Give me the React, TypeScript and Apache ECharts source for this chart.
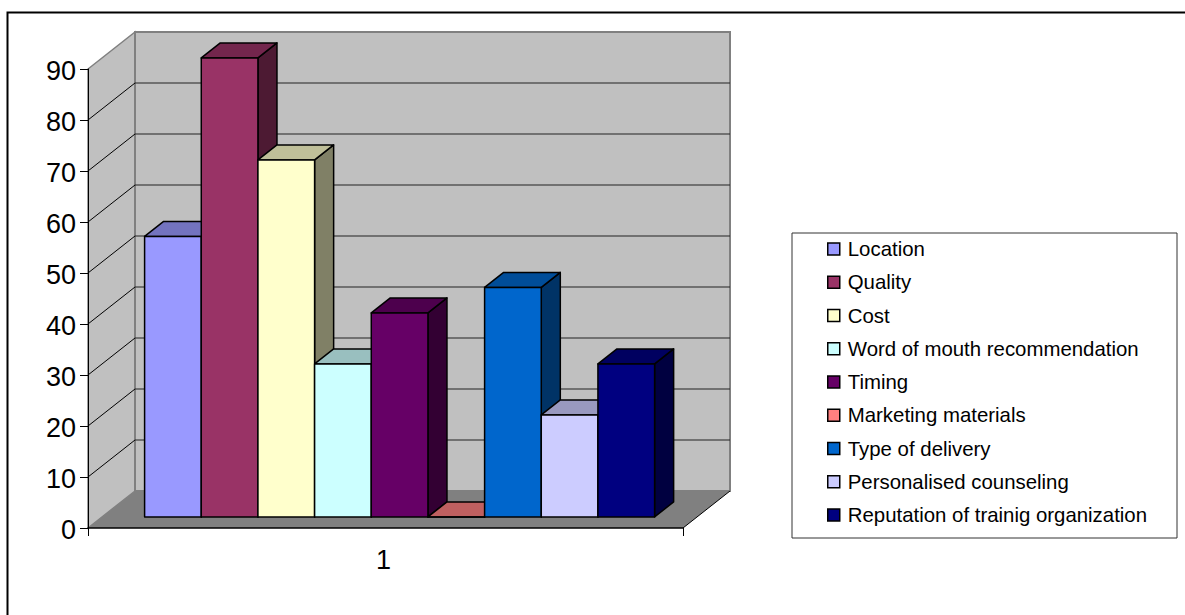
import React, { useEffect, useRef } from "react";
import * as echarts from "echarts";

const categories = ["1"];
const seriesNames = [
  "Location",
  "Quality",
  "Cost",
  "Word of mouth recommendation",
  "Timing",
  "Marketing materials",
  "Type of delivery",
  "Personalised counseling",
  "Reputation of trainig organization",
];
const seriesValues = [55, 90, 70, 30, 40, 0, 45, 20, 30];
const seriesColors = [
  "#9999ff",
  "#993366",
  "#ffffcc",
  "#ccffff",
  "#660066",
  "#ff8080",
  "#0066cc",
  "#ccccff",
  "#000080",
];
const yTicks = [10, 20, 30, 40, 50, 60, 70, 80, 90];

const FONT = "Liberation Sans";
const DX = 47;
const DY = -37;
const BAR_DEPTH = 0.405;
const BAR_NEAR = 0.3;
const GAP_BARS = 1.5;

function shade(hex: string, k: number) {
  const n = parseInt(hex.slice(1), 16);
  const r = Math.round(((n >> 16) & 255) * k);
  const g = Math.round(((n >> 8) & 255) * k);
  const b = Math.round((n & 255) * k);
  return `rgb(${r},${g},${b})`;
}

const renderWalls = (_p: any, api: any) => {
  const band = api.size([1, 0])[0];
  const c = api.coord([0, 0]);
  const left = c[0] - band / 2;
  const right = c[0] + band / 2;
  const y0 = c[1];
  const yTop = api.coord([0, 90])[1];
  const children: any[] = [
    {
      type: "polygon",
      shape: { points: [[left, yTop], [left + DX, yTop + DY], [left + DX, y0 + DY], [left, y0]] },
      style: { fill: "#c0c0c0", stroke: "#808080", lineWidth: 1.5 },
    },
    {
      type: "polygon",
      shape: { points: [[left + DX, yTop + DY], [right + DX, yTop + DY], [right + DX, y0 + DY], [left + DX, y0 + DY]] },
      style: { fill: "#c0c0c0", stroke: "#808080", lineWidth: 2 },
    },
    {
      type: "polygon",
      shape: { points: [[left, y0], [left + DX, y0 + DY], [right + DX, y0 + DY], [right, y0]] },
      style: { fill: "#808080" },
    },
    {
      type: "line",
      shape: { x1: right, y1: y0, x2: right + DX, y2: y0 + DY },
      style: { stroke: "#000", lineWidth: 1 },
    },
  ];
  yTicks.forEach((v) => {
    if (v === 90) return;
    const y = api.coord([0, v])[1];
    children.push({
      type: "line",
      shape: { x1: left, y1: y, x2: left + DX, y2: y + DY },
      style: { stroke: "#000", lineWidth: 1 },
    });
    children.push({
      type: "line",
      shape: { x1: left + DX, y1: y + DY, x2: right + DX, y2: y + DY },
      style: { stroke: "#222", lineWidth: 1 },
    });
  });
  return { type: "group", children };
};

const makeBarRenderer = (index: number, color: string) => (_p: any, api: any) => {
  const band = api.size([1, 0])[0];
  const center = api.coord([0, 0])[0];
  const y0 = api.coord([0, 0])[1];
  const yv = api.coord([0, api.value(1)])[1];
  const w = band / (seriesNames.length + GAP_BARS);
  const startX = center - band / 2 + (GAP_BARS / 2) * w;
  const x = startX + index * w + DX * BAR_NEAR;
  const off = DY * BAR_NEAR;
  const ddx = DX * BAR_DEPTH;
  const ddy = DY * BAR_DEPTH;
  const b = y0 + off;
  const t = yv + off;
  const edge = { stroke: "#000", lineWidth: 1.5, lineJoin: "round" };
  return {
    type: "group",
    children: [
      {
        type: "polygon",
        shape: { points: [[x + w, t], [x + w + ddx, t + ddy], [x + w + ddx, b + ddy], [x + w, b]] },
        style: { fill: shade(color, 0.5), ...edge },
      },
      {
        type: "polygon",
        shape: { points: [[x, t], [x + ddx, t + ddy], [x + w + ddx, t + ddy], [x + w, t]] },
        style: { fill: shade(color, 0.75), ...edge },
      },
      {
        type: "polygon",
        shape: { points: [[x, t], [x + w, t], [x + w, b], [x, b]] },
        style: { fill: color, ...edge },
      },
    ],
  };
};

export default function App() {
  const ref = useRef<HTMLDivElement>(null);
  useEffect(() => {
    if (!ref.current) return;
    const chart = echarts.init(ref.current, undefined, { renderer: "svg" });
    chart.setOption({
      animation: false,
      backgroundColor: "#ffffff",
      textStyle: { fontFamily: FONT },
      grid: { left: 88, top: 69, width: 595, height: 459, containLabel: false },
      xAxis: {
        type: "category",
        data: categories,
        z: 5,
        axisLine: { show: true, lineStyle: { color: "#000", width: 1.5 } },
        axisTick: { show: true, length: 8, lineStyle: { color: "#000", width: 1 } },
        axisLabel: { fontSize: 27, color: "#000", margin: 18, padding: [0, 4, 0, 0], fontFamily: FONT },
      },
      yAxis: {
        type: "value",
        min: 0,
        max: 90,
        interval: 10,
        z: 5,
        splitLine: { show: false },
        axisLine: { show: true, lineStyle: { color: "#000", width: 1 } },
        axisTick: { show: true, length: 8, lineStyle: { color: "#000", width: 1 } },
        axisLabel: { fontSize: 27, color: "#000", margin: 12, verticalAlign: "top", lineHeight: 4, fontFamily: FONT },
      },
      legend: {
        show: true,
        orient: "vertical",
        left: 827,
        top: 238,
        padding: 0,
        itemWidth: 12,
        itemHeight: 12,
        itemGap: 11.25,
        icon: "rect",
        selectedMode: false,
        data: seriesNames,
        itemStyle: { borderColor: "#000", borderWidth: 1.5 },
        textStyle: { fontSize: 20.4, color: "#000", fontFamily: FONT, lineHeight: 22, padding: [0, 0, 0, 3] },
      },
      graphic: [
        {
          type: "polyline",
          silent: true,
          z: -1,
          shape: { points: [[7.5, 615], [7.5, 12.5], [1185, 12.5]] },
          style: { stroke: "#000", lineWidth: 2, fill: "none" },
        },
        {
          type: "rect",
          silent: true,
          z: -1,
          shape: { x: 792, y: 233, width: 385, height: 305 },
          style: { stroke: "#333", lineWidth: 1, fill: "#fff" },
        },
      ],
      series: [
        {
          type: "custom",
          name: "walls",
          z: 1,
          silent: true,
          renderItem: renderWalls,
          data: [[0, 0]],
        },
        ...seriesNames.map((name, i) => ({
          type: "custom",
          name,
          z: 2,
          silent: true,
          itemStyle: { color: seriesColors[i] },
          renderItem: makeBarRenderer(i, seriesColors[i]),
          encode: { x: 0, y: 1 },
          data: [[0, seriesValues[i]]],
        })),
      ],
    });
    return () => chart.dispose();
  }, []);
  return (
    <div
      ref={ref}
      style={{ position: "fixed", left: 0, top: 0, width: 1185, height: 615, background: "#fff" }}
    />
  );
}
